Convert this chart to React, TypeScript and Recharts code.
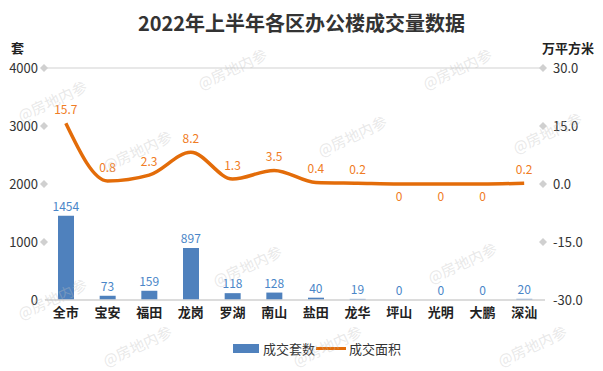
import { ComposedChart, Bar, Line, XAxis, YAxis, CartesianGrid, LabelList } from "recharts";

const districts = ["全市", "宝安", "福田", "龙岗", "罗湖", "南山", "盐田", "龙华", "坪山", "光明", "大鹏", "深汕"];
const deals = [1454, 73, 159, 897, 118, 128, 40, 19, 0, 0, 0, 20];
const areas = [15.7, 0.8, 2.3, 8.2, 1.3, 3.5, 0.4, 0.2, 0, 0, 0, 0.2];
const leftTicks = [0, 1000, 2000, 3000, 4000];
const rightTicks = [-30, -15, 0, 15, 30];

const data = districts.map((name, i) => ({ name, deals: deals[i], area: areas[i] }));

const FONT = '"Noto Sans CJK SC", "Noto Sans", sans-serif';
const BLUE = "#4F81BD";
const ORANGE = "#E36C09";

// watermark spots
const marks = [
  [225, 68], [450, 68], [45, 100], [130, 150], [345, 135], [540, 132],
  [240, 265], [455, 262], [45, 298], [130, 345], [320, 345], [525, 345],
];

function Diamond({ cx, cy }: { cx: number; cy: number }) {
  return <path d={`M${cx - 4},${cy} L${cx},${cy - 4} L${cx + 4},${cy} L${cx},${cy + 4} Z`} fill="#d0d0d0" />;
}

function LeftTick(props: any) {
  const { x, y, payload } = props;
  return (
    <g>
      <text x={x} y={y} dy="0.35em" textAnchor="end" fontSize={13} fill="#333" fontFamily={FONT}>
        {payload.value}
      </text>
      {payload.value !== 0 && <Diamond cx={x + 6} cy={y} />}
    </g>
  );
}

function RightTick(props: any) {
  const { x, y, payload } = props;
  return (
    <g>
      <text x={x} y={y} dy="0.35em" textAnchor="start" fontSize={13} fill="#333" fontFamily={FONT}>
        {payload.value.toFixed(1)}
      </text>
      {payload.value !== -30 && <Diamond cx={x - 10} cy={y} />}
    </g>
  );
}

function AreaLabel(props: any) {
  const { x, y, value } = props;
  const below = value === 0;
  return (
    <text x={x} y={below ? y + 17 : y - 9} textAnchor="middle" fontSize={12} fill="#F07C24" fontFamily={FONT}>
      {value}
    </text>
  );
}

function DealLabel(props: any) {
  const { x, y, value } = props;
  return (
    <text x={x} y={y - 5} textAnchor="middle" fontSize={12} fill="#4A86C8" fontFamily={FONT}>
      {value}
    </text>
  );
}

export default function App() {
  return (
    <div style={{ position: "absolute", left: 0, top: 0, width: 603, height: 371, background: "#fff", fontFamily: FONT, overflow: "hidden" }}>
      <div style={{ position: "absolute", top: 8, width: 603, textAlign: "center", fontSize: 20, fontWeight: 700, color: "#333" }}>
        2022年上半年各区办公楼成交量数据
      </div>
      <div style={{ position: "absolute", left: 11, top: 38, fontSize: 13, fontWeight: 700, color: "#222" }}>套</div>
      <div style={{ position: "absolute", left: 542, top: 38, fontSize: 13, fontWeight: 700, color: "#222" }}>万平方米</div>

      <ComposedChart width={603} height={371} data={data} margin={{ top: 68, right: 0, bottom: 41, left: 0 }}>
        <CartesianGrid vertical={false} stroke="#e0e0e0" strokeWidth={1.5} />
        <XAxis
          dataKey="name"
          height={30}
          axisLine={{ stroke: "#d9d9d9", strokeWidth: 1.5 }}
          tickLine={false}
          tickSize={0}
          tickMargin={8}
          tick={{ fontSize: 13, fontWeight: 700, fill: "#222", fontFamily: FONT }}
        />
        <YAxis
          yAxisId="left"
          width={45}
          domain={[0, 4000]}
          ticks={leftTicks}
          axisLine={false}
          tickLine={false}
          tickSize={0}
          tickMargin={7}
          tick={<LeftTick />}
        />
        <YAxis
          yAxisId="right"
          orientation="right"
          width={58}
          domain={[-30, 30]}
          ticks={rightTicks}
          axisLine={false}
          tickLine={false}
          tickSize={0}
          tickMargin={8}
          tick={<RightTick />}
        />
        <Bar yAxisId="left" dataKey="deals" fill={BLUE} barSize={16} isAnimationActive={false} />
        {/* invisible carrier so zero bars still get their label */}
        <Line
          yAxisId="left"
          dataKey="deals"
          stroke="none"
          dot={false}
          activeDot={false}
          legendType="none"
          isAnimationActive={false}
        >
          <LabelList dataKey="deals" content={<DealLabel />} />
        </Line>
        <Line
          yAxisId="right"
          dataKey="area"
          type="monotone"
          stroke={ORANGE}
          strokeWidth={3.5}
          dot={false}
          activeDot={false}
          isAnimationActive={false}
        >
          <LabelList dataKey="area" content={<AreaLabel />} />
        </Line>
      </ComposedChart>

      <div style={{ position: "absolute", left: 233, top: 339, display: "flex", alignItems: "center", fontSize: 13, color: "#333" }}>
        <span style={{ width: 26, height: 9, background: BLUE, display: "inline-block", marginRight: 4 }} />
        <span>成交套数</span>
        <span style={{ width: 30, height: 3, background: ORANGE, display: "inline-block", margin: "0 3px 0 1px" }} />
        <span>成交面积</span>
      </div>

      {marks.map(([x, y], i) => (
        <div
          key={i}
          style={{
            position: "absolute",
            left: x - 30,
            top: y - 10,
            fontSize: 15,
            color: "rgba(190,190,190,0.35)",
            transform: "rotate(-25deg)",
            pointerEvents: "none",
            whiteSpace: "nowrap",
          }}
        >
          @房地内参
        </div>
      ))}
    </div>
  );
}
